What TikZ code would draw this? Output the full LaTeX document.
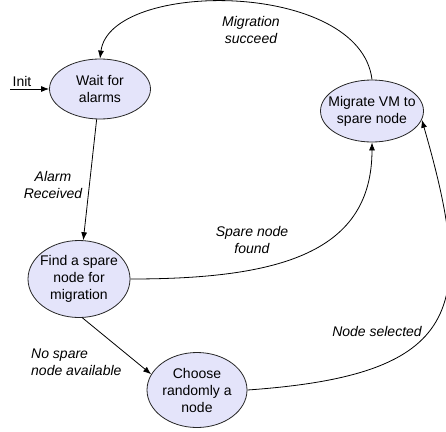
\documentclass[tikz,border=0pt]{standalone}
\usepackage{fontspec}
\setmainfont{Liberation Sans}
\usetikzlibrary{shapes.geometric,arrows.meta}
\definecolor{lav}{RGB}{228,228,250}
\tikzset{
  state/.style={ellipse, draw=black!85, line width=0.8pt, fill=lav, inner sep=-30pt, align=center,
    font=\fontsize{14pt}{17pt}\selectfont},
  lbl/.style={font=\fontsize{14pt}{16.5pt}\selectfont\itshape, inner sep=0pt},
  arr/.style={-{Latex[length=8pt,width=6pt]}, line width=0.8pt},
}
\begin{document}
\begin{tikzpicture}[x=1pt,y=-1pt]
\useasboundingbox (0,0) rectangle (446,431);
\node[state, minimum width=101pt, minimum height=60pt] (wait) at (100,89) {Wait for\\alarms};
\node[state, minimum width=103pt, minimum height=62pt] (migrate) at (372,111) {Migrate VM to\\spare node};
\node[state, minimum width=102pt, minimum height=77pt] (find) at (79,279) {Find a spare\\node for\\migration};
\node[state, minimum width=100pt, minimum height=75pt] (choose) at (197,390) {Choose\\randomly a\\node};
\coordinate (init) at (10,89);
\node[inner sep=0pt, anchor=base, font=\fontsize{14pt}{16pt}\selectfont] (initlbl) at (22,86) {Init};
\draw[arr] (init) -- (wait.west);
\draw[arr] (wait) -- (find);
\draw[arr] (find.-85) -- (choose.161);
\draw[arr] (find.east) .. controls +(150,0) and +(0,110) .. (migrate.south);
\draw[arr] (choose.east) .. controls +(215,-15) and +(55,190) .. (migrate.-10);
\draw[arr] (migrate.north) .. controls +(-12,-100) and +(10,-79) .. (wait.north);
\node[lbl, align=center] (lalarm) at (53,185) {Alarm\\Received};
\node[lbl, align=left, anchor=west] (lno) at (31,362) {No spare\\node available};
\node[lbl, align=center] (lspare) at (252,240) {Spare node\\found};
\node[lbl] (lsel) at (377,331) {Node selected};
\node[lbl, align=center] (lmig) at (251,30) {Migration\\succeed};
\end{tikzpicture}
\end{document}
